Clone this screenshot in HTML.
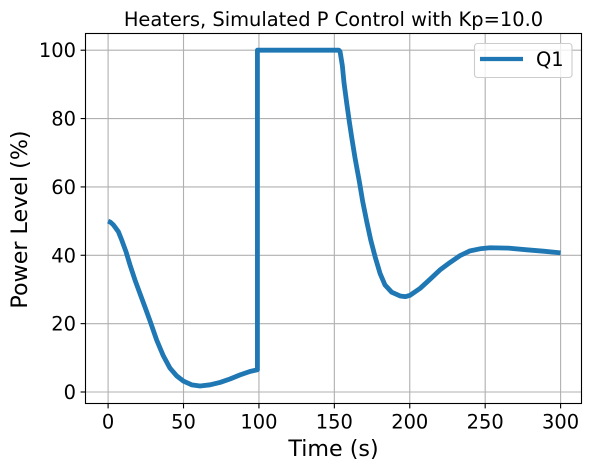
<!DOCTYPE html>
<html>
<head>
<meta charset="utf-8">
<style>
html,body{margin:0;padding:0;background:#fff;width:591px;height:470px;overflow:hidden}
svg{display:block;font-family:"DejaVu Sans","Liberation Sans",sans-serif}
</style>
</head>
<body>
<svg id="chart" xmlns="http://www.w3.org/2000/svg" width="591" height="470" viewBox="0 0 591 470">
  <rect x="0" y="0" width="591" height="470" fill="#fff"/>
  <g id="grid"></g>
  <polyline id="q1" fill="none" stroke="#1f77b4" stroke-width="4.8" stroke-linejoin="round" stroke-linecap="butt"/>
  <g id="ticks"></g>
  <rect x="85.5" y="33.5" width="496" height="370" fill="none" stroke="#000" stroke-width="1.11"/>
  <text x="333.5" y="26" font-size="19.44" text-anchor="middle" fill="#000" id="title">Heaters, Simulated P Control with Kp=10.0</text>
  <text x="333.5" y="456" font-size="22.2" text-anchor="middle" fill="#000">Time (s)</text>
  <text transform="translate(27,219.5) rotate(-90)" font-size="22.2" text-anchor="middle" fill="#000">Power Level (%)</text>
  <g>
    <rect x="474.5" y="43.5" width="97.5" height="34" rx="3" ry="3" fill="#fff" fill-opacity="0.8" stroke="#ccc" stroke-width="1.11"/>
    <line x1="480" y1="59" x2="523" y2="59" stroke="#1f77b4" stroke-width="4.17"/>
    <text x="536" y="66" font-size="19.44" fill="#000">Q1</text>
  </g>
</svg>
<script>
const xTickValues = [0, 50, 100, 150, 200, 250, 300];
const yTickValues = [0, 20, 40, 60, 80, 100];
const timeSeconds = [0, 1.5, 3.5, 5, 6.8, 9, 11.9, 14.5, 17.8, 20.7, 24.5, 27.8, 32.2, 36.6, 41, 45.5, 49.9, 55.4, 61, 67.6, 74.2, 80.8, 87.5, 94, 99, 99, 125, 153, 153.8, 155.3, 156.4, 158.2, 159.9, 161.5, 163.7, 166.6, 168.8, 171.5, 174.1, 177, 180.3, 183.6, 188, 193.6, 197, 200.2, 206.8, 213.5, 220, 226.7, 233.3, 240, 246.6, 253.2, 265.4, 277.6, 288.6, 300];
const q1Power = [50, 49.7, 48.9, 48, 46.9, 44.5, 41, 37.2, 32.8, 29.3, 24.8, 20.8, 15.2, 10.6, 7, 4.7, 3.2, 2.1, 1.75, 2.1, 2.8, 3.8, 5, 6, 6.5, 100, 100, 100, 99.6, 95.5, 90.5, 84.5, 79.2, 74.5, 68.5, 61.5, 55.7, 49.8, 44.5, 39.6, 34.7, 31.3, 29.2, 28.1, 27.9, 28.3, 30.3, 33, 35.7, 37.9, 39.9, 41.3, 41.9, 42.2, 42.1, 41.6, 41.2, 40.7];

const svgNS = 'http://www.w3.org/2000/svg';
function xScale(t) { return 108.1 + t * (560.6 - 108.1) / 300; }
function yScale(v) { return 392 - v * (392 - 50.2) / 100; }

const gridGroup = document.getElementById('grid');
const tickGroup = document.getElementById('ticks');

function makeLine(x1, y1, x2, y2, color) {
  const l = document.createElementNS(svgNS, 'line');
  l.setAttribute('x1', x1);
  l.setAttribute('y1', y1);
  l.setAttribute('x2', x2);
  l.setAttribute('y2', y2);
  l.setAttribute('stroke', color);
  l.setAttribute('stroke-width', '1.11');
  return l;
}

xTickValues.forEach(function (t) {
  const x = xScale(t);
  const g = makeLine(x, 33.5, x, 403.5, '#b0b0b0');
  
  
  gridGroup.appendChild(g);
  const m = makeLine(x, 403.5, x, 408.4, '#000');
  
  
  tickGroup.appendChild(m);
  const label = document.createElementNS(svgNS, 'text');
  
  
  label.setAttribute('x', x);
  label.setAttribute('y', 428.5);
  label.setAttribute('font-size', '19.44');
  label.setAttribute('text-anchor', 'middle');
  label.textContent = String(t);
  tickGroup.appendChild(label);
});

yTickValues.forEach(function (v) {
  const y = yScale(v);
  const g = makeLine(85.5, y, 581.5, y, '#b0b0b0');
  
  
  gridGroup.appendChild(g);
  const m = makeLine(80.6, y, 85.5, y, '#000');
  
  
  tickGroup.appendChild(m);
  const label = document.createElementNS(svgNS, 'text');
  
  
  label.setAttribute('x', 76);
  label.setAttribute('y', y + 7);
  label.setAttribute('font-size', '19.44');
  label.setAttribute('text-anchor', 'end');
  label.textContent = String(v);
  tickGroup.appendChild(label);
});

document.getElementById('q1').setAttribute('points', timeSeconds.map(function (t, i) {
  return xScale(t).toFixed(2) + ',' + yScale(q1Power[i]).toFixed(2);
}).join(' '));
</script>
</body>
</html>
